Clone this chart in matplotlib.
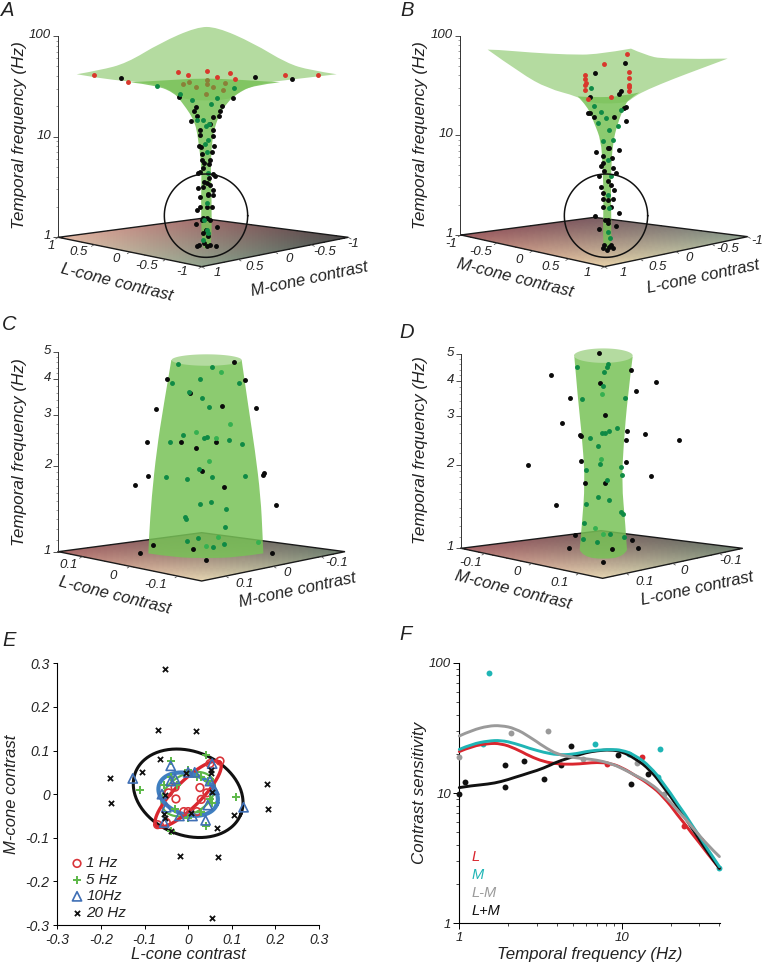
import numpy as np
import matplotlib
matplotlib.use("Agg")
import matplotlib.pyplot as plt
from matplotlib.ticker import FixedLocator, NullFormatter, FixedFormatter
from matplotlib.colors import to_rgb
from matplotlib.path import Path
from matplotlib.patches import PathPatch
from matplotlib.transforms import ScaledTranslation

plt.rcParams['font.family'] = ['Liberation Sans', 'DejaVu Sans']
plt.rcParams['font.style'] = 'italic'
W, H = 762, 963
TEXT = '#222222'
LIGHT_SURF, DARK_SURF = '#b4dba0', '#78c257'
BLACK_DOT, GREEN_DOT, LGREEN_DOT, RED_DOT, OLIVE_DOT = '#0a0a0a', '#0f8a45', '#35b050', '#d8382c', '#8a8038'

# ---------- Panel A (projected offset, log10 Hz) ----------
A_red_x = [-327,-227,-77,-47,10,40,79,95,245,345]
A_red_y = [1.61,1.54,1.64,1.61,1.65,1.59,1.63,1.57,1.61,1.61]
A_olive_x = [-62,-42,-22,10,10,7,30,58,65]
A_olive_y = [1.52,1.54,1.49,1.56,1.52,1.42,1.49,1.46,1.53]
A_black_x = [-248,155,267,-73,88,-22,-27,-20,-36,55,50,48,30,-10,30,20,-10,30,-13,-7,32,-4,26,-5,20,2,18,0,-10,-17,30,35,2,18,0,20,10,-15,30,15,-10,30,15,-10,-18,10,25,0,10,20,-22,40,8,-20,-12,2,10,20,38,15,0,-5]
A_black_y = [1.58,1.59,1.57,1.39,1.38,1.29,1.25,1.21,1.16,1.30,1.25,1.21,1.20,1.07,1.07,1.13,1.02,1.01,.91,.90,.91,.83,.85,.77,.77,.74,.73,.69,.65,.64,.63,.61,.55,.59,.50,.52,.54,.49,.47,.43,.40,.42,.42,.30,.27,.30,.30,.19,.19,.17,.13,.10,.07,-.09,-.08,-.06,-.09,-.08,-.09,.01,.04,.17]
A_green_x = [-138,-70,92,-35,40,24,0,-20,18,8,15,5,10,15,10,10,0,15,2]
A_green_y = [1.50,1.42,1.48,1.36,1.38,1.32,1.17,1.17,1.13,1.11,.97,.93,.85,.64,.34,.07,-.03,.04,.17]
A_top_x = [-380,-310,-230,-130,-20,40,150,250,320,400,270,170,110,80,-60,-90,-150,-230,-310]
A_top_y = [1.62,1.66,1.73,1.93,2.09,2.09,1.93,1.73,1.66,1.62,1.57,1.53,1.45,1.36,1.36,1.45,1.53,1.55,1.58]
A_neck_x = [-220,-110,-10,90,230,150,100,70,50,38,30,25,22,25,25,10,-5,-7,-5,-13,-18,-25,-40,-62,-85,-140]
A_neck_y = [1.54,1.56,1.58,1.57,1.54,1.51,1.43,1.33,1.23,1.13,1.03,.90,.70,.37,-.09,-.12,-.09,.37,.70,.90,1.03,1.13,1.23,1.33,1.43,1.51]

# ---------- Panel B ----------
B_red_x = [58,-11,-67,-67,-65,-67,-67,63,63,65,65,63,10,-58]
B_red_y = [1.82,1.72,1.61,1.57,1.53,1.51,1.45,1.64,1.58,1.51,1.48,1.44,1.38,1.36]
B_black_x = [52,-38,40,35,-53,55,50,-60,-52,-40,18,56,-35,35,0,5,-15,13,-15,-20,15,-10,-25,25,0,-20,10,-15,20,0,-15,10,-38,35,0,0,-25,25,-10,10,-15,15,-2,5,-8,-15,15]
B_black_y = [1.73,1.63,1.44,1.41,1.38,1.28,1.27,1.22,1.22,1.18,1.18,1.14,.83,.85,.87,.87,.79,.77,.72,.69,.67,.64,.59,.62,.54,.48,.50,.42,.45,.35,.28,.28,.19,.22,.15,.12,.06,.09,-.10,-.10,-.13,-.13,-.15,-.12,.15,.36,.36]
B_green_x = [-50,-40,-20,-5,40,30,-30,5,-15,17,0,10,0,5,0,8]
B_green_y = [1.47,1.29,1.23,1.17,1.25,1.09,1.12,1.05,.94,.95,.75,.59,.40,.27,.03,-.03]
B_top_x = [-360,-335,-230,-120,-30,70,110,170,360,280,200,120,80,55,-55,-90,-180,-260]
B_top_y = [1.86,1.86,1.83,1.81,1.81,1.87,1.81,1.76,1.77,1.67,1.57,1.46,1.39,1.32,1.32,1.39,1.47,1.62]
B_neck_x = [-90,-40,40,95,65,50,30,15,10,10,12,-2,-15,-12,-15,-20,-40,-60]
B_neck_y = [1.39,1.38,1.39,1.43,1.37,1.29,1.12,.92,.62,.35,-.13,-.16,-.13,.35,.69,.95,1.12,1.29]

# ---------- Panel C ----------
C_black_x = [92,-110,124,-40,-143,57,157,-168,-67,38,-22,-5,-167,182,180,-204,63,217,-150,-30,-190,205,7]
C_black_y = [.663,.604,.599,.554,.499,.509,.501,.385,.385,.382,.364,.282,.263,.274,.267,.232,.225,.162,.024,.010,-.006,-.006,-.030]
C_green_x = [-77,25,-93,-11,108,-43,-3,17,-62,-100,2,10,76,115,-13,-111,-48,26,125,-9,23,68,-55,-52,65,-48,-15,62,30]
C_green_y = [.657,.646,.591,.605,.590,.559,.536,.505,.408,.385,.397,.400,.389,.375,.288,.261,.254,.262,.266,.166,.174,.148,.121,.114,.085,.036,.047,.027,.016]
C_lgreen_x = [53,-23,80,37,18,44,8,163]
C_lgreen_y = [.629,.417,.445,.396,.316,.051,.021,.035]
C_level = [.670,.507,.355,.192,.052,-.006]
C_left = [-96,-120,-140,-155,-163,-165]
C_right = [115,135,155,172,178,180]
C_bottom_x = [100,10,-90]
C_bottom_y = [-.02,-.023,-.02]

# ---------- Panel D ----------
D_black_x = [-13,-158,82,158,-10,99,-99,5,-124,71,-71,-68,124,68,226,-66,67,-225,143,-56,6,-142,-85,85,-102,26,103,0]
D_black_y = [.705,.623,.643,.600,.594,.567,.541,.481,.450,.423,.408,.403,.413,.389,.389,.315,.310,.301,.261,.236,.234,.155,.047,.029,0,-.002,0,-.050]
D_green_x = [-80,14,10,3,-2,-63,64,41,18,5,-5,-40,-17,-11,53,-53,56,11,-17,17,-53,54,58,-59,-62,-20,20,62]
D_green_y = [.653,.663,.652,.636,.586,.538,.543,.433,.424,.415,.417,.399,.370,.305,.293,.283,.265,.246,.184,.174,.160,.130,.124,.092,.032,.023,.050,.042]
D_lgreen_x = [-5,-7,-24,0]
D_lgreen_y = [.557,.322,.073,.050]
D_level = [.690,.546,.378,.234,.090,-.006]
D_left = [-87,-77,-62,-55,-64,-71]
D_right = [88,73,61,55,66,71]
D_bottom_x = [60,0,-60]
D_bottom_y = [-.03,-.040,-.03]

# ---------- Panel E ----------
E_ticks = [-0.3,-0.2,-0.1,0,0.1,0.2,0.3]
E_ticklabels = ['-0.3','-0.2','-0.1','0','0.1','0.2','0.3']
hz1_l = [0.073,0.05,-0.07,-0.05,0.027,0.043,0.03,-0.028,-0.045,-0.03,0.0,0.02,-0.01]
hz1_m = [0.076,0.07,-0.07,-0.065,0.015,0.003,-0.012,-0.011,0.003,0.016,-0.04,-0.04,-0.04]
hz5_l = [0.042,-0.04,-0.11,0.11,0.04,-0.04,0,-0.025,-0.04,0.03,-0.055,0.055,0.03,-0.03,0,0.02,0.045,0.05]
hz5_m = [0.09,0.076,0.009,-0.006,-0.073,-0.085,0.055,0.02,0.04,0.04,0.02,-0.02,-0.04,-0.035,-0.055,0.04,0.03,-0.01]
hz10_l = [-0.127,0.127,-0.04,0.04,0.055,-0.055,-0.03,0.045,-0.06,0.06,0.0,0.015,-0.02,0.01,-0.04,0.05,-0.05]
hz10_m = [0.036,-0.03,0.065,-0.06,0.07,-0.065,0.035,-0.025,0,0.01,0.05,0.05,-0.05,-0.05,0.03,0.03,-0.03]
hz20_l = [-0.053,-0.068,0.018,-0.18,-0.178,0.181,0.183,-0.018,0.069,0.055,-0.065,-0.105,-0.005,0.053,0.053,-0.053,0.054,0.006,-0.055,-0.052,0.105,0.066,-0.04]
hz20_m = [0.286,0.147,0.145,0.036,-0.021,0.024,-0.033,-0.142,-0.145,-0.284,0.08,0.051,0.048,0.055,0.048,-0.001,0.005,-0.044,-0.045,-0.055,-0.048,-0.077,-0.085]
# ellipse fits: centre l, centre m, semi-major, semi-minor, angle in degrees
fit_20 = (0.0, 0.002, 0.130, 0.096, -22)
fit_1 = (0.0, 0.0, 0.103, 0.030, 45)
fit_5 = (0.0, 0.0, 0.066, 0.045, 30)
fit_10 = (0.0, 0.0, 0.070, 0.047, -18)

# ---------- Panel F ----------
F_freq = [1,1.2,1.5,1.8,2.2,2.7,3.3,4,5,6,7,8.5,10,12,15,18,22,27,33,40]
L_fit = [20.8,22.9,24.0,24.0,22.0,19.2,17.4,16.7,16.6,16.9,17.2,16.9,15.7,13.7,11.5,9.4,6.8,4.9,3.55,2.64]
M_fit = [21.6,23.8,25.1,25.4,24.0,22.0,20.5,19.6,19.8,20.8,21.3,21.6,21.4,19.6,15.9,11.9,8.3,5.7,3.87,2.72]
LmM_fit = [27.4,30.4,32.7,33.0,31.3,27.0,22.7,19.8,18.7,18.3,17.9,16.9,15.5,13.7,11.9,9.7,7.4,5.5,4.1,3.25]
LpM_fit = [11.0,11.4,11.7,12.2,13.2,14.3,15.5,17.4,19.0,20.4,21.1,21.5,20.8,18.5,15.0,11.2,7.9,5.4,3.65,2.64]
L_f = [13.4,24.1,30.8,8.1]
L_s = [18.8,5.55,4.36,16.7]
M_f = [1.52,1.40,6.88,11.1,17.3,16.7,40]
M_s = [82.8,23.6,23.6,19.8,21.6,13.2,2.66]
LmM_f = [1,2.07,3.52,5.75,12.4,18.1]
LmM_s = [19,28.7,29.9,18.2,17.1,9.8]
LpM_f = [1,1.08,1.90,1.90,2.51,3.34,4.25,4.9,9.53,11.35,14.5]
LpM_s = [9.8,12.2,16.3,11.1,17.7,12.9,16.4,22.8,19.6,11.8,14.1]

COL_L, COL_M, COL_G, COL_K = '#d9262e', '#1fb5b5', '#9a9a9a', '#111111'

fig = plt.figure(figsize=(W/100, H/100), dpi=100)
fig.patch.set_facecolor('white')


def ztext(ox, oy, zx, zy, s, size=9.5, rot=0):
    fig.text((ox + zx/3)/W, 1 - (oy + zy/3)/H, s, ha='center', va='center', fontsize=size,
             rotation=rot, rotation_mode='anchor', color=TEXT)


def smooth_path(xs, ys, sharp, closed):
    """Quadratic Bezier spline through the read outline, log-spaced in y; sharp = indices kept as corners."""
    px = list(xs)
    py = list(ys)
    n = len(px)
    if closed:
        sharp = sorted(sharp)
        order = list(range(sharp[0], n)) + list(range(0, sharp[0] + 1))
        cut = [i for i, j in enumerate(order) if j in sharp]
        runs = [order[a:b+1] for a, b in zip(cut[:-1], cut[1:])]
    else:
        runs = [list(range(n))]
    verts, codes = [], []
    for r, run in enumerate(runs):
        if r == 0:
            verts.append((px[run[0]], py[run[0]]))
            codes.append(Path.MOVETO)
        m = len(run) - 1
        if m == 1:
            verts.append((px[run[1]], py[run[1]]))
            codes.append(Path.LINETO)
            continue
        for i in range(1, m):
            a, b = run[i], run[i+1]
            verts.append((px[a], py[a]))
            codes.append(Path.CURVE3)
            if i == m-1:
                verts.append((px[b], py[b]))
            else:
                verts.append(((px[a]+px[b])/2, (py[a]+py[b])/2))
            codes.append(Path.CURVE3)
    v = np.array(verts)
    v[:, 1] = 10**v[:, 1]
    return Path(v, codes)


def panel3d(ox, oy, cx, y1, k, axis_z, top, majors, labels, minors, corners, colors, ylab_z):
    ax = fig.add_axes([ox/W, 1-(oy+310)/H, 381/W, 310/H])
    ax.patch.set_alpha(0)
    ax.set_yscale('log')
    ax.set_xlim(0-cx, 1143-cx)
    ax.set_ylim(10**((y1-930)/k), 10**(y1/k))
    for s in ['top', 'right', 'bottom']:
        ax.spines[s].set_visible(False)
    ax.spines['left'].set_position(('data', axis_z-cx))
    ax.spines['left'].set_bounds(1, top)
    ax.spines['left'].set_linewidth(0.7)
    ax.spines['left'].set_color('#333333')
    ax.set_xticks([])
    ax.yaxis.set_major_locator(FixedLocator(majors))
    ax.yaxis.set_major_formatter(FixedFormatter(labels))
    ax.yaxis.set_minor_locator(FixedLocator(minors))
    ax.yaxis.set_minor_formatter(NullFormatter())
    ax.tick_params(axis='y', which='major', length=3.6, width=0.6, labelsize=9.5, pad=1.5, labelcolor=TEXT, color='#333333')
    ax.tick_params(axis='y', which='minor', length=1.6, width=0.4, color='#555555')
    ax.set_ylabel('Temporal frequency (Hz)', fontsize=12.3, color=TEXT)
    ax.yaxis.set_label_coords((ylab_z[0]+30)/1143, 1-ylab_z[1]/930)
    for t in ax.yaxis.get_major_ticks():
        t.label1.set_transform(t.label1.get_transform() + ScaledTranslation(0, 2.5/100, fig.dpi_scale_trans))

    def z2d(zx, zy):
        return np.asarray(zx, float)-cx, 10**((y1-np.asarray(zy, float))/k)

    # floor
    n = 50
    u = np.linspace(0, 1, n+1)
    U, V = np.meshgrid(u, u)
    (lx, ly), (bx, by), (rx, ry), (fx, fy) = corners
    ZX = (1-U)*(1-V)*lx + U*(1-V)*fx + U*V*rx + (1-U)*V*bx
    ZY = (1-U)*(1-V)*ly + U*(1-V)*fy + U*V*ry + (1-U)*V*by
    X, Y = z2d(ZX, ZY)
    uc = (u[:-1]+u[1:])/2
    Uc, Vc = np.meshgrid(uc, uc)
    cl, cb, cr, cf = [np.array(to_rgb(c)) for c in colors]
    C = ((1-Uc)*(1-Vc))[..., None]*cl + (Uc*(1-Vc))[..., None]*cf + (Uc*Vc)[..., None]*cr + ((1-Uc)*Vc)[..., None]*cb
    ax.pcolormesh(X, Y, C, shading='flat', edgecolors='none', antialiased=False, zorder=1, rasterized=True)
    ex, ey = z2d([lx, bx, rx, fx, lx], [ly, by, ry, fy, ly])
    ax.plot(ex, ey, color='#1a1a1a', lw=1.0, zorder=1.5, solid_joinstyle='miter')
    return ax, z2d


def floor_ticks(ax, z2d, a, b, fracs, dz):
    for t in fracs:
        mx = a[0]+(b[0]-a[0])*t
        my = a[1]+(b[1]-a[1])*t
        x, y = z2d([mx, mx+dz[0]], [my, my+dz[1]])
        ax.plot(x, y, color='#444444', lw=0.5, zorder=1.6)


def dots(ax, xs, ys, color, z=4):
    ax.scatter(xs, 10**np.asarray(ys), s=12.5, color=color, linewidths=0, zorder=z)


def surf(ax, xs, ys, sharp, color, alpha, z):
    ax.add_patch(PathPatch(smooth_path(xs, ys, sharp, True), facecolor=color, edgecolor='none', alpha=alpha, lw=0, zorder=z))


def circle(ax, cx_off, cy_log, r, k):
    t = np.linspace(0, 2*np.pi, 200)
    ax.plot(cx_off+r*np.cos(t), 10**(cy_log+r/k*np.sin(t)), color='#111111', lw=1.1, zorder=6)


def cylinder(ax, level, left, right, bx, by, top_c, top_hw, top_hh):
    xs = list(left[::-1]) + list(right) + list(bx)
    ys = list(level[::-1]) + list(level) + list(by)
    m = len(level)
    surf(ax, xs, ys, [0, m-1, m, 2*m-1], DARK_SURF, 0.85, 2)
    t = np.linspace(0, 2*np.pi, 120)
    ax.fill(top_c[0]+top_hw*np.cos(t), 10**(top_c[1]+top_hh*np.sin(t)), color=LIGHT_SURF, lw=0, zorder=2.5)


dec_minor_2 = [v*m for m in (1, 10) for v in range(2, 10)]
lin_minor = [1.1,1.2,1.3,1.4,1.5,1.6,1.7,1.8,1.9,2.2,2.4,2.6,2.8,3.2,3.4,3.6,3.8,4.2,4.4,4.6,4.8]

# Panel A
corn = [(175,712),(605,655),(1045,712),(605,800)]
axA, z = panel3d(0, 0, 610, 712, 302, 175, 100, [1,10,100], ['1','10','100'], dec_minor_2, corn,
                 ['#e4b8a4','#a06c6c','#4c4a4a','#93a58f'], (52,405))
floor_ticks(axA, z, corn[0], corn[3], [0,.25,.5,.75,1], (-8,5))
floor_ticks(axA, z, corn[3], corn[2], [0,.25,.5,.75,1], (8,5))
surf(axA, A_top_x, A_top_y, [0, 9], LIGHT_SURF, 1, 2)
surf(axA, A_neck_x, A_neck_y, [0, 4], DARK_SURF, 0.85, 2.2)
dots(axA, A_black_x, A_black_y, BLACK_DOT)
dots(axA, A_green_x, A_green_y, GREEN_DOT)
dots(axA, A_red_x, A_red_y, RED_DOT)
dots(axA, A_olive_x, A_olive_y, OLIVE_DOT)
circle(axA, 8, 65/302, 125, 302)

# Panel B
corn = [(240,705),(640,652),(1100,710),(670,800)]
axB, z = panel3d(381, 0, 680, 705, 299, 238, 100, [1,10,100], ['1','10','100'], dec_minor_2, corn,
                 ['#a05e62','#7a5a60','#8da08e','#e6d0a8'], (112,405))
floor_ticks(axB, z, corn[0], corn[3], [0,.25,.5,.75,1], (-8,5))
floor_ticks(axB, z, corn[3], corn[2], [0,.25,.5,.75,1], (8,5))
surf(axB, B_top_x, B_top_y, [0, 5, 8], LIGHT_SURF, 1, 2)
surf(axB, B_neck_x, B_neck_y, [0, 3], DARK_SURF, 0.85, 2.2)
dots(axB, B_black_x, B_black_y, BLACK_DOT)
dots(axB, B_green_x, B_green_y, GREEN_DOT)
dots(axB, B_red_x, B_red_y, RED_DOT)
circle(axB, -5, 58/299, 125, 299)

# Panel C
corn = [(175,725),(605,668),(1035,725),(605,813)]
axC, z = panel3d(0, 310, 610, 725, 858, 175, 5, [1,2,3,4,5], ['1','2','3','4','5'], lin_minor, corn,
                 ['#ad6a6a','#7a5f5f','#6f8070','#e6d6b2'], (50,425))
floor_ticks(axC, z, corn[0], corn[3], [.167,.5,.833], (-8,5))
floor_ticks(axC, z, corn[3], corn[2], [.167,.5,.833], (8,5))
cylinder(axC, C_level, C_left, C_right, C_bottom_x, C_bottom_y, (10,.670), 105, .02)
dots(axC, C_black_x, C_black_y, BLACK_DOT)
dots(axC, C_green_x, C_green_y, GREEN_DOT)
dots(axC, C_lgreen_x, C_lgreen_y, LGREEN_DOT)

# Panel D
corn = [(240,715),(660,662),(1085,715),(665,805)]
axD, z = panel3d(381, 310, 667, 715, 833, 240, 5, [1,2,3,4,5], ['1','2','3','4','5'], lin_minor, corn,
                 ['#a86468','#7a5f5f','#6f8070','#e6d6b2'], (112,420))
floor_ticks(axD, z, corn[0], corn[3], [.167,.5,.833], (-8,5))
floor_ticks(axD, z, corn[3], corn[2], [.167,.5,.833], (8,5))
cylinder(axD, D_level, D_left, D_right, D_bottom_x, D_bottom_y, (0,.694), 88, .026)
dots(axD, D_black_x, D_black_y, BLACK_DOT)
dots(axD, D_green_x, D_green_y, GREEN_DOT)
dots(axD, D_lgreen_x, D_lgreen_y, LGREEN_DOT)

# floor text
floor_labels = [
    (0, 0, [('1',155,737),('0.5',235,755),('0',348,778),('-0.5',440,798),('-1',548,815),
            ('1',652,818),('0.5',765,802),('0',868,778),('-0.5',975,755),('-1',1060,733)],
     ('L-cone contrast',350,848,-14), ('M-cone contrast',928,838,12)),
    (381, 0, [('-1',212,732),('-0.5',300,755),('0',415,780),('0.5',510,800),('1',618,820),
              ('1',727,820),('0.5',830,802),('0',925,775),('-0.5',1040,748),('-1',1130,722)],
     ('M-cone contrast',403,835,-14), ('L-cone contrast',968,830,12)),
    (0, 310, [('0.1',205,765),('0',338,798),('-0.1',468,825),('0.1',735,822),('0',860,790),('-0.1',1010,760)],
     ('L-cone contrast',345,858,-14), ('M-cone contrast',892,842,12)),
    (381, 310, [('-0.1',270,760),('0',408,785),('0.1',535,820),('0.1',792,815),('0',910,783),('-0.1',1050,752)],
     ('M-cone contrast',397,840,-14), ('L-cone contrast',950,835,12)),
]
for ox, oy, ticks, t1, t2 in floor_labels:
    for s, zx, zy in ticks:
        ztext(ox, oy, zx, zy, s, size=9.5)
    for s, zx, zy, r in (t1, t2):
        ztext(ox, oy, zx, zy, s, size=12, rot=r)

# Panel letters
for s, px, py in [('A',8,10),('B',407,10),('C',9,325),('D',407,333),('E',9,640),('F',406,635)]:
    fig.text(px/W, 1-py/H, s, fontsize=14.5, ha='center', va='center', color=TEXT)

# Panel E
axE = fig.add_axes([57.3/W, 1-925/H, 261.7/W, 261.7/H])
axE.patch.set_alpha(0)
axE.set_xlim(-0.3, 0.3)
axE.set_ylim(-0.3, 0.3)
for s in ['top', 'right']:
    axE.spines[s].set_visible(False)
for s in ['left', 'bottom']:
    axE.spines[s].set_linewidth(0.8)
axE.set_xticks(E_ticks, E_ticklabels)
axE.set_yticks(E_ticks, E_ticklabels)
axE.tick_params(length=3, width=0.7, labelsize=10, labelcolor=TEXT, pad=2.5)
axE.set_xlabel('L-cone contrast', fontsize=12, color=TEXT, labelpad=0.5)
axE.set_ylabel('M-cone contrast', fontsize=12, color=TEXT, labelpad=4.5)


def ellipse(ax, fit, color, lw, z):
    c0, c1, a, b, ang = fit
    t = np.linspace(0, 2*np.pi, 240)
    th = np.deg2rad(ang)
    x = c0 + a*np.cos(t)*np.cos(th) - b*np.sin(t)*np.sin(th)
    y = c1 + a*np.cos(t)*np.sin(th) + b*np.sin(t)*np.cos(th)
    ax.plot(x, y, color=color, lw=lw, zorder=z)


ellipse(axE, fit_20, COL_K, 2.2, 3)
ellipse(axE, fit_5, '#5cb848', 1.6, 3.1)
ellipse(axE, fit_1, '#d9262e', 2.4, 3.2)
ellipse(axE, fit_10, '#3f7fc0', 3.0, 3.6)
h1 = axE.scatter(hz1_l, hz1_m, s=30, facecolors='none', edgecolors='#d9353a', linewidths=1.2, zorder=4, label='1 Hz')
h5 = axE.scatter(hz5_l, hz5_m, s=34, marker='+', color='#5cb848', linewidths=1.4, zorder=4.2, label='5 Hz')
h10 = axE.scatter(hz10_l, hz10_m, s=44, marker='^', facecolors='none', edgecolors='#3f6fb5', linewidths=1.2, zorder=4.4, label='10Hz')
h20 = axE.scatter(hz20_l, hz20_m, s=14, marker='x', color='#111111', linewidths=1.3, zorder=5, label='20 Hz')
axE.legend(handles=[h1, h5, h10, h20], loc='lower left', bbox_to_anchor=(0.052, 0.02), frameon=False, fontsize=11,
           labelspacing=0.16, handlelength=0.8, handletextpad=0.2, borderpad=0, borderaxespad=0, labelcolor=TEXT)

# Panel F
axF = fig.add_axes([459.3/W, 1-923.3/H, 261/W, 260.6/H])
axF.patch.set_alpha(0)
axF.set_xscale('log')
axF.set_yscale('log')
axF.set_xlim(1, 40.5)
axF.set_ylim(1, 100)
for s in ['top', 'right']:
    axF.spines[s].set_visible(False)
axF.xaxis.set_major_locator(FixedLocator([1, 10]))
axF.xaxis.set_major_formatter(FixedFormatter(['1', '10']))
axF.xaxis.set_minor_locator(FixedLocator([2,3,4,5,6,7,8,9,20,30,40]))
axF.xaxis.set_minor_formatter(NullFormatter())
axF.yaxis.set_major_locator(FixedLocator([1, 10, 100]))
axF.yaxis.set_major_formatter(FixedFormatter(['1', '10', '100']))
axF.yaxis.set_minor_locator(FixedLocator([2,3,4,5,6,7,8,9,20,30,40,50,60,70,80,90]))
axF.yaxis.set_minor_formatter(NullFormatter())
axF.tick_params(which='major', length=4, width=0.7, labelsize=9.5, labelcolor=TEXT, pad=2)
axF.tick_params(which='minor', length=2, width=0.5)
axF.set_xlabel('Temporal frequency (Hz)', fontsize=12.2, color=TEXT, labelpad=2.5)
axF.set_ylabel('Contrast sensitivity', fontsize=12.2, color=TEXT, labelpad=1)
for f, s, c in [(L_f, L_s, COL_L), (M_f, M_s, COL_M), (LmM_f, LmM_s, COL_G), (LpM_f, LpM_s, COL_K)]:
    axF.scatter(f, s, s=18, color=c, linewidths=0, zorder=3, clip_on=False)
for y, c, zo in [(L_fit, COL_L, 4), (LpM_fit, COL_K, 4.2), (M_fit, COL_M, 4.4), (LmM_fit, COL_G, 4.6)]:
    pth = smooth_path(F_freq, np.log10(y), [], False)
    axF.add_patch(PathPatch(pth, facecolor='none', edgecolor=c, lw=2.1, zorder=zo, capstyle='round', clip_on=False))
for s, c, zy in [('L', COL_L, 712), ('M', COL_M, 765), ('L-M', COL_G, 818), ('L+M', COL_K, 872)]:
    fig.text((381+272/3)/W, 1-(620+zy/3)/H, s, color=c, fontsize=10.5, ha='left', va='center')

fig.savefig('out.png', dpi=100)
